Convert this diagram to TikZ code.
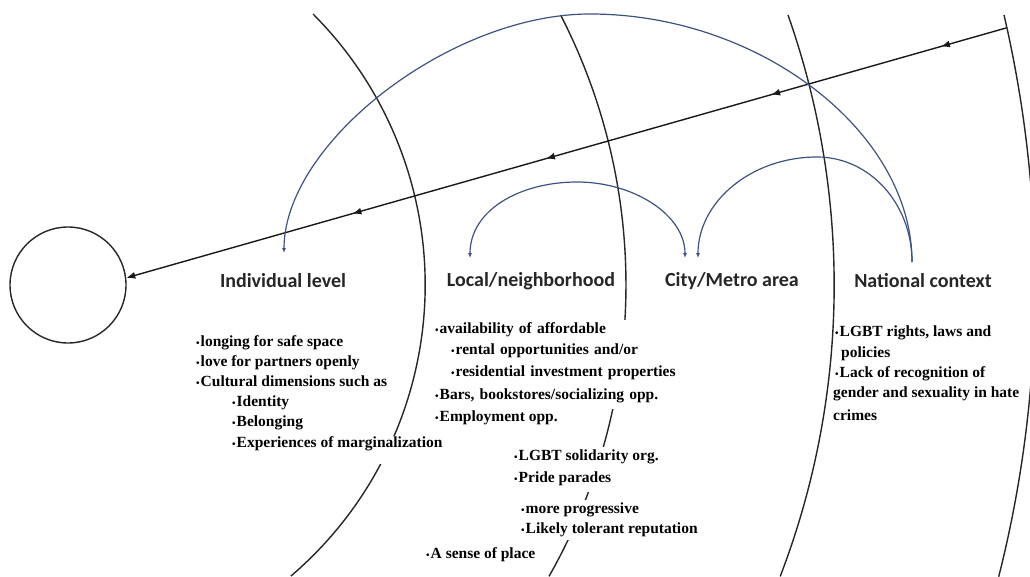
\documentclass[tikz,border=0pt]{standalone}
\usepackage{fontspec}
\setmainfont{Liberation Serif}
\newfontfamily\labfont{Carlito}
\usetikzlibrary{arrows.meta,decorations.markings}
\definecolor{arcblue}{RGB}{62,82,130}
\newcommand{\bl}{{\fontsize{10}{10}\selectfont •}\kern1pt}
\begin{document}
\begin{tikzpicture}[x=1pt,y=-1pt,
  ring/.style={line width=1.4pt, black!85},
  flow/.style={line width=1.4pt, black!90, -{Latex[length=9pt,width=7pt]},
    postaction={decorate},
    decoration={markings,
      mark=at position 0.074 with {\arrow{Latex[length=9pt,width=7pt]}},
      mark=at position 0.267 with {\arrow{Latex[length=9pt,width=7pt]}},
      mark=at position 0.523 with {\arrow{Latex[length=9pt,width=7pt]}},
      mark=at position 0.743 with {\arrow{Latex[length=9pt,width=7pt]}}}},
  link/.style={arcblue, line width=1.2pt},
  tipb/.style={-{Latex[length=5pt,width=4pt]}},
  lvl/.style={font=\labfont\bfseries\fontsize{20}{24}\selectfont, inner sep=1pt, text=black!85},
  itm/.style={font=\bfseries\fontsize{15.5}{18}\selectfont, anchor=west, fill=white,
    inner xsep=1pt, inner ysep=0pt, text height=12.5pt, text depth=6.5pt},
  itmtall/.style={itm, text height=14pt, text depth=9pt},
  nat/.style={font=\bfseries\fontsize{15.5}{18}\selectfont, anchor=west, inner sep=1pt}
  ]
\useasboundingbox (0,0) rectangle (1030,576);
\begin{scope}
\clip (0,0) rectangle (1030,576);
\draw[ring] (313,14) arc[start angle=-45, end angle=49.5, radius=383];
\draw[ring] (560.6,15) arc[start angle=-27.23, end angle=29.6, radius=590];
\draw[ring] (788,15) arc[start angle=-19.4, end angle=21, radius=813];
\draw[ring] (1004,15) arc[start angle=-13.11, end angle=14.2, radius=1190];
\end{scope}

\node[circle, draw, line width=1.4pt, black!85, minimum size=116pt, inner sep=0pt] (hub) at (68,285) {};
\coordinate (src) at (1006,28);
\draw[flow] (src) -- (hub.7);

% level labels
\node[lvl] (ind) at (283,281) {Individual level};
\node[lvl] (loc) at (531,281) {Local/neighborhood};
\node[lvl] (city) at (732,281) {City/Metro area};
\node[lvl] (nation) at (923,281) {National context};

\coordinate (natTop) at (912,262);
\coordinate (indTop) at (284,253);
\coordinate (locTop) at (470,258);
\coordinate (cityL) at (685,258);
\coordinate (cityR) at (698,258);

\draw[link, tipb] (natTop) .. controls (912,132) and (760,14) .. (590,14) .. controls (450,14) and (284,143) .. (indTop);
\draw[link, tipb] (natTop) .. controls (912,204) and (870,157) .. (817,157) .. controls (751,157) and (698,202) .. (cityR);
\draw[link, {Latex[length=5pt,width=4pt]}-{Latex[length=5pt,width=4pt]}] (locTop) .. controls (470,210) and (520,182) .. (577,182) .. controls (634,182) and (685,215) .. (cityL);

% individual items
\node[itm] (i1) at (195,343) {\bl longing for safe space};
\node[itm] (i2) at (195,363) {\bl love for partners openly};
\node[itm] (i3) at (195,383) {\bl Cultural dimensions such as};
\node[itm] (i4) at (231,403) {\bl Identity};
\node[itm] (i5) at (231,423) {\bl Belonging};
\node[itm, text height=11.5pt, text depth=17pt] (i6) at (231,449.75) {\bl Experiences of marginalization};

% local items
\node[itmtall, text width=243pt] (l1) at (434,331) {\bl availability of affordable};
\node[itmtall, text width=227pt] (l2) at (450,352) {\bl rental opportunities and/or};
\node[itmtall, text width=227pt] (l3) at (450,374) {\bl residential investment properties};
\node[itmtall, text width=243pt] (l4) at (434,397) {\bl Bars, bookstores/socializing opp.};
\node[itm] (l5) at (434,418) {\bl Employment opp.};
\node[itmtall] (l6) at (513,458) {\bl LGBT solidarity org.};
\node[itmtall] (l7) at (513,480) {\bl Pride parades};
\node[itmtall] (l8) at (520,511) {\bl more progressive};
\node[itm] (l9) at (520,530) {\bl Likely tolerant reputation};
\node[itm] (l10) at (425,555) {\bl A sense of place};

% national items
\node[nat] (n1) at (834,333) {\bl LGBT rights, laws and};
\node[nat] (n2) at (840,354) {policies};
\node[nat] (n3) at (834,374) {\bl Lack of recognition of};
\node[nat] (n4) at (832,394) {gender and sexuality in hate};
\node[nat] (n5) at (832,415) {crimes};
\end{tikzpicture}
\end{document}
